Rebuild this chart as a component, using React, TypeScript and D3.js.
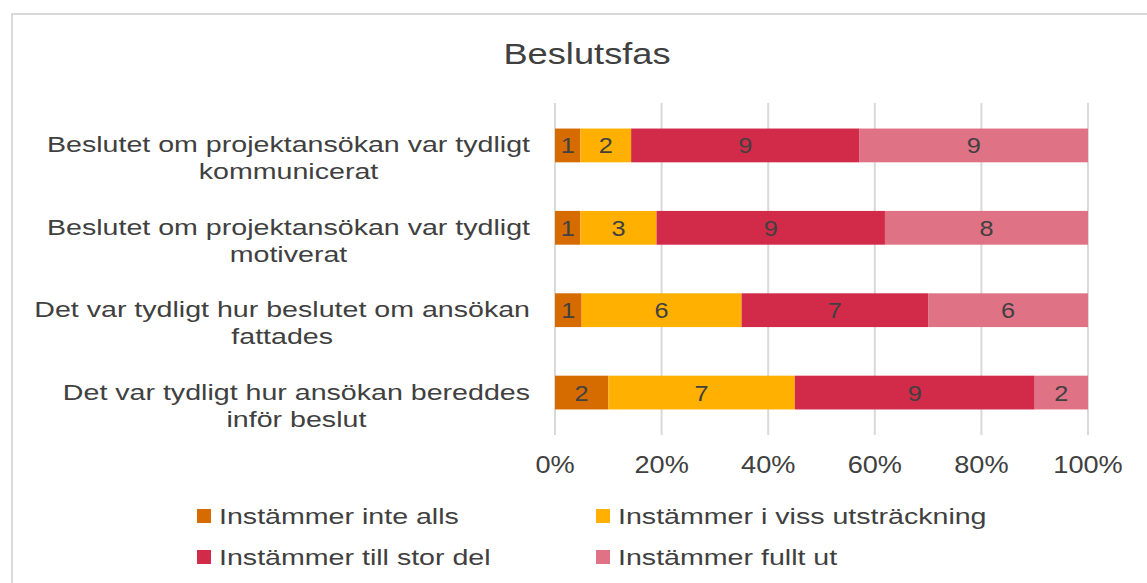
import React, { useEffect, useRef } from "react";
import * as d3 from "d3";

const categories = [
  ["Beslutet om projektansökan var tydligt", "kommunicerat"],
  ["Beslutet om projektansökan var tydligt", "motiverat"],
  ["Det var tydligt hur beslutet om ansökan", "fattades"],
  ["Det var tydligt hur ansökan bereddes", "inför beslut"],
];
const seriesNames = [
  "Instämmer inte alls",
  "Instämmer i viss utsträckning",
  "Instämmer till stor del",
  "Instämmer fullt ut",
];
const seriesColors = ["#D66C00", "#FFB000", "#D22B4A", "#E07286"];
// counts per category, one array per series
const inteAlls = [1, 1, 1, 2];
const vissUtstrackning = [2, 3, 6, 7];
const tillStorDel = [9, 9, 7, 9];
const fulltUt = [9, 8, 6, 2];
const tickValues = [0, 0.2, 0.4, 0.6, 0.8, 1];

const FONT = "'Liberation Sans', Arial, sans-serif";
const SX = 1.3; // text in the reference is stretched sideways
const TEXT = "#404040";

const App = () => {
  const ref = useRef<SVGSVGElement>(null);

  useEffect(() => {
    const svg = d3.select(ref.current);
    svg.selectAll("*").remove();

    const series = [inteAlls, vissUtstrackning, tillStorDel, fulltUt];
    const keys = categories.map((c, i) => String(i));

    const x = d3.scaleLinear().domain([0, 1]).range([555, 1088]);
    const y = d3
      .scaleBand()
      .domain(keys)
      .range([103, 435])
      .paddingInner(0.59)
      .paddingOuter(0.31);

    const addText = (g, txt, tx, ty, size, anchor, sx = SX) =>
      g
        .append("text")
        .attr("transform", `translate(${tx},${ty}) scale(${sx},1)`)
        .attr("text-anchor", anchor)
        .attr("font-family", FONT)
        .attr("font-size", size)
        .attr("fill", TEXT)
        .text(txt);

    // chart border
    svg
      .append("rect")
      .attr("x", 12)
      .attr("y", 14)
      .attr("width", 1160)
      .attr("height", 600)
      .attr("fill", "white")
      .attr("stroke", "#d9d9d9")
      .attr("stroke-width", 2);

    // title
    addText(svg, "Beslutsfas", 587, 64, 29, "middle", 1.25);

    // gridlines
    svg
      .append("g")
      .selectAll("line")
      .data(tickValues)
      .enter()
      .append("line")
      .attr("x1", (d) => x(d))
      .attr("x2", (d) => x(d))
      .attr("y1", 103)
      .attr("y2", 435)
      .attr("stroke", "#d9d9d9")
      .attr("stroke-width", 2);

    // x tick labels
    const ticks = svg.append("g");
    tickValues.forEach((t) =>
      addText(ticks, d3.format(".0%")(t), x(t), 473, 23, "middle", 1.18)
    );

    // stacked bars
    const bars = svg.append("g");
    keys.forEach((k, i) => {
      const total = d3.sum(series, (s) => s[i]);
      let acc = 0;
      series.forEach((s, j) => {
        const v = s[i];
        const x0 = x(acc / total);
        const x1 = x((acc + v) / total);
        acc += v;
        bars
          .append("rect")
          .attr("x", x0)
          .attr("y", y(k))
          .attr("width", x1 - x0)
          .attr("height", y.bandwidth())
          .attr("fill", seriesColors[j]);
        addText(
          bars,
          String(v),
          (x0 + x1) / 2,
          y(k) + y.bandwidth() / 2 + 8,
          22,
          "middle",
          1.15
        );
      });
    });

    // category labels, two lines, second centred under the first
    const labels = svg.append("g");
    keys.forEach((k, i) => {
      const cy = y(k) + y.bandwidth() / 2;
      const first = addText(labels, categories[i][0], 530, cy + 7, 22, "end");
      const w = (first.node() as SVGTextElement).getComputedTextLength() * SX;
      addText(labels, categories[i][1], 530 - w / 2, cy + 34, 22, "middle");
    });

    // legend
    const legendPos = [
      [197, 516],
      [596, 516],
      [197, 557],
      [596, 557],
    ];
    const legend = svg.append("g");
    seriesNames.forEach((name, i) => {
      const [lx, ly] = legendPos[i];
      legend
        .append("rect")
        .attr("x", lx)
        .attr("y", ly - 7)
        .attr("width", 14)
        .attr("height", 14)
        .attr("fill", seriesColors[i]);
      addText(legend, name, lx + 22, ly + 8, 22, "start");
    });
  }, []);

  return (
    <svg
      ref={ref}
      width={1147}
      height={583}
      style={{ position: "absolute", left: 0, top: 0, background: "white" }}
    />
  );
};

export default App;
